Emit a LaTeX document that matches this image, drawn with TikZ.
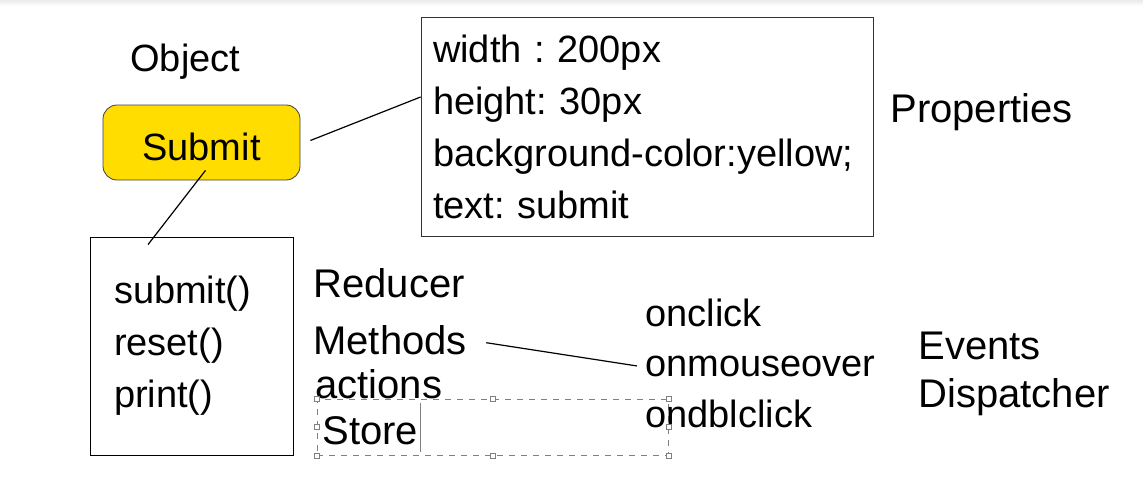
\documentclass[tikz,border=0pt]{standalone}
\usepackage{fontspec}
\setmainfont{Liberation Sans}
\usepackage{amsmath}
\frenchspacing

\definecolor{btnyellow}{RGB}{255,221,0}

\tikzset{
	txt/.style={anchor=base west, inner sep=0pt, font=\fontsize{19}{26}\selectfont},
	tag/.style={txt, font=\fontsize{20}{26}\selectfont},
	listbox/.style={draw, align=left, inner ysep=0pt, inner xsep=6pt, font=\fontsize{19}{26}\selectfont},
	handle/.style={draw=gray, fill=white, rectangle, inner sep=0pt, minimum size=2.5pt, line width=0.4pt},
	link/.style={line width=0.6pt}
}

\begin{document}
\begin{tikzpicture}[x=0.5pt, y=-0.5pt]
			\useasboundingbox (0,0) rectangle (1143,476);
			\shade[top color=black!8, bottom color=white] (0,0) rectangle (1143,6);
				\node[txt] (obj)at(130, 72) {Object};
				\node[draw=black!75, rectangle, rounded corners=7pt, fill=btnyellow, minimum width=98.5pt, minimum height=37.5pt, text height=17.5pt, text depth=0pt, font=\fontsize{19}{26}\selectfont] (btn)at(201.5, 142.5) {Submit};
				\node[listbox, draw=black!80, text width=214pt, minimum height=109.5pt] (props)at(647, 126.5) {width : 200px\\height: 30px\\background-color:yellow;\\text: submit};
				\node[tag] (prop)at(890, 122) {Properties};
				\node[listbox, inner xsep=12pt, text width=77.5pt, minimum height=109pt] (meth)at(191.5, 346) {submit()\\reset()\\print()};
				\node[tag] (red)at(313, 297) {Reducer};
				\node[tag] (methlbl)at(313, 354) {Methods};
				\node[tag] (act)at(315, 398) {actions};
				\node[draw=gray, dashed, line width=0.4pt, inner sep=0pt, minimum width=175.5pt, minimum height=28pt] (sel)at(492.5, 427) {};
				\node[tag] (store)at(322, 444) {Store};
				\node[txt] (click)at(645, 326) {onclick};
				\node[txt] (mouse)at(645, 376) {onmouseover};
				\node[txt] (dbl)at(645, 427) {ondblclick};
				\node[tag] (ev)at(918, 359) {Events};
				\node[tag] (disp)at(918, 407) {Dispatcher};
				% selection handles
				\foreach \a [count=\i] in {north west, north, north east, east, south east, south, south west, west}
					\node[handle] (h\i) at (sel.\a) {};
				\draw[gray, line width=0.5pt] ([xshift=1pt, yshift=-2pt]sel.north -| store.east) -- ([xshift=1pt, yshift=1.5pt]sel.south -| store.east);
				% connectors
				\draw[link] ([shift={(5pt,1pt)}]btn.east) -- ([yshift=14.75pt]props.west);
				\draw[link] ([shift={(2pt,5pt)}]btn.south) -- ([shift={(-21.75pt,-4pt)}]meth.north);
				\draw[link] ([shift={(9.5pt,-1.5pt)}]methlbl.east) -- ([xshift=-4pt]mouse.west);
			\end{tikzpicture}
\end{document}
